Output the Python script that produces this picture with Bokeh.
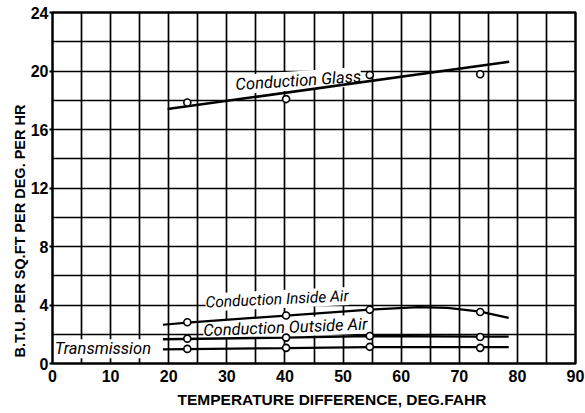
from bokeh.plotting import figure
from bokeh.models import SingleIntervalTicker, Label, Range1d, Title
from bokeh.embed import file_html
from bokeh.resources import INLINE

# --- data -------------------------------------------------------------------
temp_x = [23.2, 40.2, 54.6, 73.6]
glass_pts = [17.85, 18.08, 19.73, 19.78]
inside_pts = [2.82, 3.28, 3.68, 3.52]
outside_pts = [1.70, 1.77, 1.88, 1.81]
trans_pts = [1.00, 1.07, 1.14, 1.07]

glass_curve_x = [19.8, 78.6]
glass_curve_y = [17.40, 20.63]
inside_curve_x = [19.0, 23.2, 40.2, 54.6, 63.0, 68.0, 73.6, 78.5]
inside_curve_y = [2.65, 2.80, 3.28, 3.68, 3.86, 3.80, 3.55, 3.12]
outside_curve_x = [19.0, 40.2, 54.6, 73.6, 78.5]
outside_curve_y = [1.66, 1.77, 1.88, 1.84, 1.84]
trans_curve_x = [19.0, 40.2, 54.6, 78.5]
trans_curve_y = [0.97, 1.05, 1.12, 1.12]

curve_names = ["Conduction Glass", "Conduction Inside Air",
               "Conduction Outside Air", "Transmission"]
x_title = "TEMPERATURE DIFFERENCE, DEG.FAHR"
y_title = "B.T.U. PER SQ.FT PER DEG. PER HR"

# --- figure -----------------------------------------------------------------
p = figure(width=585, height=413, output_backend="svg", toolbar_location=None,
           x_range=Range1d(0, 90), y_range=Range1d(0, 24),
           min_border_left=52, min_border_right=10,
           min_border_top=12, min_border_bottom=50)
p.background_fill_color = "white"
p.border_fill_color = "white"
p.outline_line_color = "black"
p.outline_line_width = 2.5

p.xaxis.ticker = SingleIntervalTicker(interval=10)
p.yaxis.ticker = SingleIntervalTicker(interval=4)
p.xgrid.ticker = SingleIntervalTicker(interval=5)
p.ygrid.ticker = SingleIntervalTicker(interval=2)
for g in (p.xgrid, p.ygrid):
    g.grid_line_color = "black"
    g.grid_line_width = 1.7
    g.grid_line_alpha = 1.0

for ax in (p.xaxis, p.yaxis):
    ax.axis_line_color = None
    ax.minor_tick_line_color = None
    ax.major_tick_in = 0
    ax.major_label_text_font = "Liberation Sans"
    ax.major_label_text_font_style = "bold"
    ax.major_label_text_font_size = "16px"
    ax.major_label_text_color = "black"
p.xaxis.major_tick_out = 0
p.xaxis.major_label_standoff = 2
p.yaxis.major_tick_out = 3
p.yaxis.major_tick_line_color = "black"
p.yaxis.major_tick_line_width = 2
p.yaxis.major_label_standoff = 0

# --- curves -------------------------------------------------------------------
line_sets = [(glass_curve_x, glass_curve_y, 2.6), (inside_curve_x, inside_curve_y, 2.2),
             (outside_curve_x, outside_curve_y, 2.4), (trans_curve_x, trans_curve_y, 2.2)]
for cx, cy, w in line_sets:
    r = p.line(cx, cy, line_color="black", line_width=w)
    r.level = "overlay"
for ys in (glass_pts, inside_pts, outside_pts, trans_pts):
    r = p.scatter(temp_x, ys, marker="circle", size=7, fill_color="white",
                  line_color="black", line_width=1.6)
    r.level = "overlay"

# --- curve labels -------------------------------------------------------------
label_pos = [(31.6, 18.42, 0.065, "16.5px"), (26.4, 3.55, 0.046, "15.5px"),
             (26.0, 1.60, 0.040, "16.5px"), (0.4, 0.36, 0.0, "16.5px")]
for name, (lx, ly, ang, fs) in zip(curve_names, label_pos):
    p.add_layout(Label(x=lx, y=ly, text=name, angle=ang,
                       text_font="Roboto", text_font_style="italic",
                       text_font_size=fs, text_color="black",
                       background_fill_color="white", background_fill_alpha=1.0))

# --- axis titles -------------------------------------------------------------
p.add_layout(Title(text=x_title, align="left", offset=125, standoff=8,
                   vertical_align="bottom", text_font="Liberation Sans",
                   text_font_style="bold", text_font_size="15.5px",
                   text_color="black"), "below")
p.add_layout(Title(text=y_title, align="left", offset=6, standoff=0,
                   vertical_align="bottom", text_font="Liberation Sans",
                   text_font_style="bold", text_font_size="14.5px",
                   text_color="black"), "left")

open("out.html", "w").write(file_html(p, INLINE))
